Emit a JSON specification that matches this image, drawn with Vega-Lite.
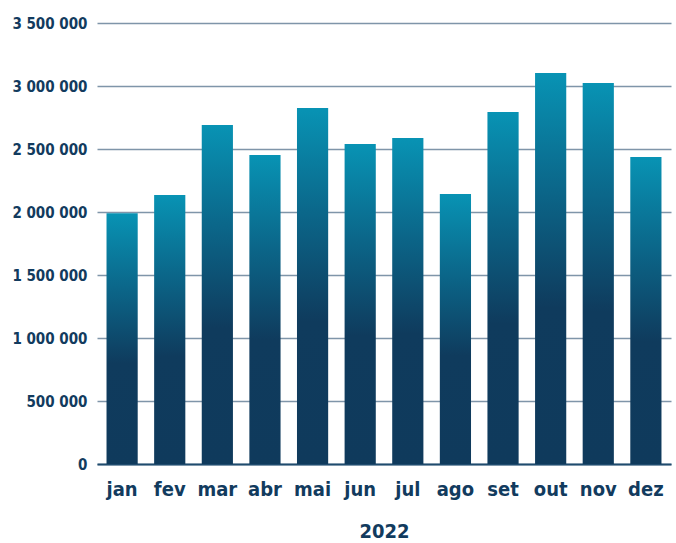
{
  "$schema": "https://vega.github.io/schema/vega-lite/v6.json",
  "width": 574,
  "height": 441,
  "autosize": {"type": "none"},
  "padding": {"left": 97, "top": 23, "right": 5, "bottom": 79},
  "background": "white",
  "config": {
    "view": {"stroke": null},
    "font": "'Liberation Sans Narrow', 'DejaVu Sans Condensed', sans-serif"
  },
  "data": {
    "values": [
      {"mes": "jan", "valor": 1990000},
      {"mes": "fev", "valor": 2135000},
      {"mes": "mar", "valor": 2690000},
      {"mes": "abr", "valor": 2452000},
      {"mes": "mai", "valor": 2825000},
      {"mes": "jun", "valor": 2540000},
      {"mes": "jul", "valor": 2587000},
      {"mes": "ago", "valor": 2143000},
      {"mes": "set", "valor": 2794000},
      {"mes": "out", "valor": 3103000},
      {"mes": "nov", "valor": 3024000},
      {"mes": "dez", "valor": 2437000}
    ]
  },
  "mark": {
    "type": "bar",
    "color": {
      "gradient": "linear",
      "x1": 0, "y1": 0, "x2": 0, "y2": 1,
      "stops": [
        {"offset": 0, "color": "#0893b4"},
        {"offset": 0.3, "color": "#0b6689"},
        {"offset": 0.6, "color": "#0f3b5d"},
        {"offset": 1, "color": "#0f3a5c"}
      ]
    }
  },
  "encoding": {
    "x": {
      "field": "mes",
      "type": "nominal",
      "sort": null,
      "scale": {"paddingInner": 0.345, "paddingOuter": 0.2},
      "axis": {
        "title": "2022",
        "titleFontSize": 20,
        "titleFontWeight": "bold",
        "titleColor": "#123b5e",
        "titlePadding": 22,
        "labelAngle": 0,
        "labelFontSize": 20,
        "labelFontWeight": "bold",
        "labelColor": "#123b5e",
        "labelPadding": 15,
        "ticks": false,
        "domain": true,
        "domainColor": "#1f4b6e",
        "domainWidth": 2,
        "grid": false
      }
    },
    "y": {
      "field": "valor",
      "type": "quantitative",
      "scale": {"domain": [0, 3500000], "nice": false},
      "axis": {
        "title": null,
        "values": [0, 500000, 1000000, 1500000, 2000000, 2500000, 3000000, 3500000],
        "labelExpr": "replace(format(datum.value, ',d'), /,/g, ' ')",
        "labelFontSize": 15,
        "labelFontWeight": "bold",
        "labelColor": "#123b5e",
        "labelPadding": 10,
        "ticks": false,
        "domain": false,
        "grid": true,
        "gridColor": "#7f95a9",
        "gridWidth": 1.5
      }
    }
  }
}
